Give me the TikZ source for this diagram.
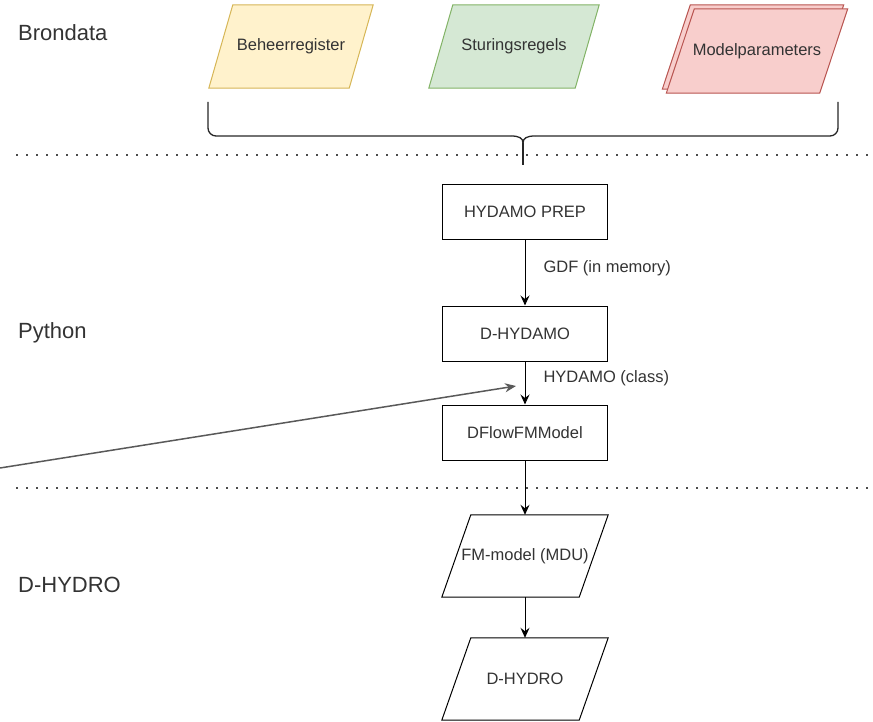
\documentclass[tikz,border=0pt]{standalone}
\usepackage{fontspec}
\setmainfont{Liberation Sans}
\usetikzlibrary{arrows.meta,backgrounds}
\definecolor{inkgray}{HTML}{333333}
\definecolor{yelfill}{HTML}{FFF2CC}
\definecolor{yeldraw}{HTML}{D6B656}
\definecolor{grnfill}{HTML}{D5E8D4}
\definecolor{grndraw}{HTML}{82B366}
\definecolor{redfill}{HTML}{F8CECC}
\definecolor{reddraw}{HTML}{B85450}
\definecolor{pointergray}{HTML}{595959}
\tikzset{
  boxfont/.style={font=\fontsize{16.5}{19}\selectfont, text=inkgray},
  rowlabel/.style={font=\fontsize{22}{26}\selectfont, text=inkgray, anchor=west, inner sep=0pt},
  procbox/.style={draw=black, line width=1pt, rectangle, minimum width=165pt, minimum height=55pt, boxfont},
  databox/.style={rectangle, inner sep=0pt, boxfont},
  paraline/.style={line width=1pt},
  flow/.style={draw=black, line width=1pt, -{Stealth[length=10pt,width=9pt,inset=3.5pt]}},
  edgelabel/.style={boxfont, anchor=west, inner sep=0pt, xshift=18pt},
  separator/.style={draw=black!70, line width=2pt, dash pattern=on 2pt off 8pt},
  bracket/.style={draw=black!85, line width=1.3pt},
  pointer/.style={draw=pointergray, line width=1.5pt, -{Stealth[length=11pt,width=9pt,inset=3.5pt]}}
}
\begin{document}
\begin{tikzpicture}[x=1pt,y=1pt,yscale=-1,xscale=1]
\useasboundingbox (0,0) rectangle (873,722);
% Text Node
\node[rowlabel] (brondata) at (18,33) {Brondata};
% Text Node
\node[rowlabel] (python) at (18,333) {Python};
% Text Node
\node[rowlabel] (dhydrorow) at (18,585) {D-HYDRO};

% Text Node
\node[databox, minimum width=140pt, minimum height=83pt] (beheer) at (291,46.5) {Beheerregister};
\node[databox, minimum width=146pt, minimum height=83pt] (sturing) at (514,46.5) {Sturingsregels};
\node[databox, minimum width=153pt, minimum height=84pt] (modelback) at (753,47) {};
\node[databox, minimum width=153pt, minimum height=84pt] (modelpar) at (757,51) {Modelparameters};

\begin{scope}[on background layer]
%Shape: Parallelogram
\draw[paraline, draw=yeldraw, fill=yelfill] ([xshift=-12pt]beheer.south west) -- ([xshift=12pt]beheer.north west) -- ([xshift=12pt]beheer.north east) -- ([xshift=-12pt]beheer.south east) -- cycle;
%Shape: Parallelogram
\draw[paraline, draw=grndraw, fill=grnfill] ([xshift=-12pt]sturing.south west) -- ([xshift=12pt]sturing.north west) -- ([xshift=12pt]sturing.north east) -- ([xshift=-12pt]sturing.south east) -- cycle;
%Shape: Parallelogram
\draw[paraline, draw=reddraw, fill=redfill] ([xshift=-14pt]modelback.south west) -- ([xshift=14pt]modelback.north west) -- ([xshift=14pt]modelback.north east) -- ([xshift=-14pt]modelback.south east) -- cycle;
%Shape: Parallelogram
\draw[paraline, draw=reddraw, fill=redfill] ([xshift=-14pt]modelpar.south west) -- ([xshift=14pt]modelpar.north west) -- ([xshift=14pt]modelpar.north east) -- ([xshift=-14pt]modelpar.south east) -- cycle;
\end{scope}

%Curly Bracket
\coordinate (bracetip) at (523,143);
\draw[bracket, rounded corners=8pt] (208,102) -- (208,136) -- (511,136);
\draw[bracket] (511,136) .. controls (519,136) and (523,138) .. (bracetip);
\draw[bracket, rounded corners=8pt] (838,102) -- (838,136) -- (535,136);
\draw[bracket] (535,136) .. controls (527,136) and (523,138) .. (bracetip);
\draw[bracket] (bracetip) -- (523,165);

%Dotted Lines
\draw[separator] (16,155) -- (870,155);
\draw[separator] (16,488) -- (870,488);

%Shape: Rectangle
\node[procbox] (prep) at (525,212) {HYDAMO PREP};
%Shape: Rectangle
\node[procbox] (dhydamo) at (525,333.5) {D-HYDAMO};
%Shape: Rectangle
\node[procbox] (dflowfm) at (525,432.5) {DFlowFMModel};
% Text Node
\node[databox, minimum width=137pt, minimum height=82pt] (fmmodel) at (525,556) {FM-model (MDU)};
\node[databox, minimum width=137pt, minimum height=82pt] (dhydro) at (525,679) {D-HYDRO};
%Shape: Parallelogram
\draw[paraline] ([xshift=-14.5pt]fmmodel.south west) -- ([xshift=14.5pt]fmmodel.north west) -- ([xshift=14.5pt]fmmodel.north east) -- ([xshift=-14.5pt]fmmodel.south east) -- cycle;
%Shape: Parallelogram
\draw[paraline] ([xshift=-14.5pt]dhydro.south west) -- ([xshift=14.5pt]dhydro.north west) -- ([xshift=14.5pt]dhydro.north east) -- ([xshift=-14.5pt]dhydro.south east) -- cycle;

%Arrows
\draw[flow] (prep) -- node[edgelabel, pos=0.43] {GDF (in memory)} (dhydamo);
\draw[flow] (dhydamo) -- node[edgelabel, pos=0.39] {HYDAMO (class)} (dflowfm);
\draw[flow] (dflowfm) -- (fmmodel);
\draw[flow] (fmmodel) -- (dhydro);

%Pointer Arrow
\coordinate (pointerstart) at (0,468);
\coordinate (pointertip) at (516,386);
\draw[pointer] (pointerstart) -- (pointertip);
\end{tikzpicture}
\end{document}
